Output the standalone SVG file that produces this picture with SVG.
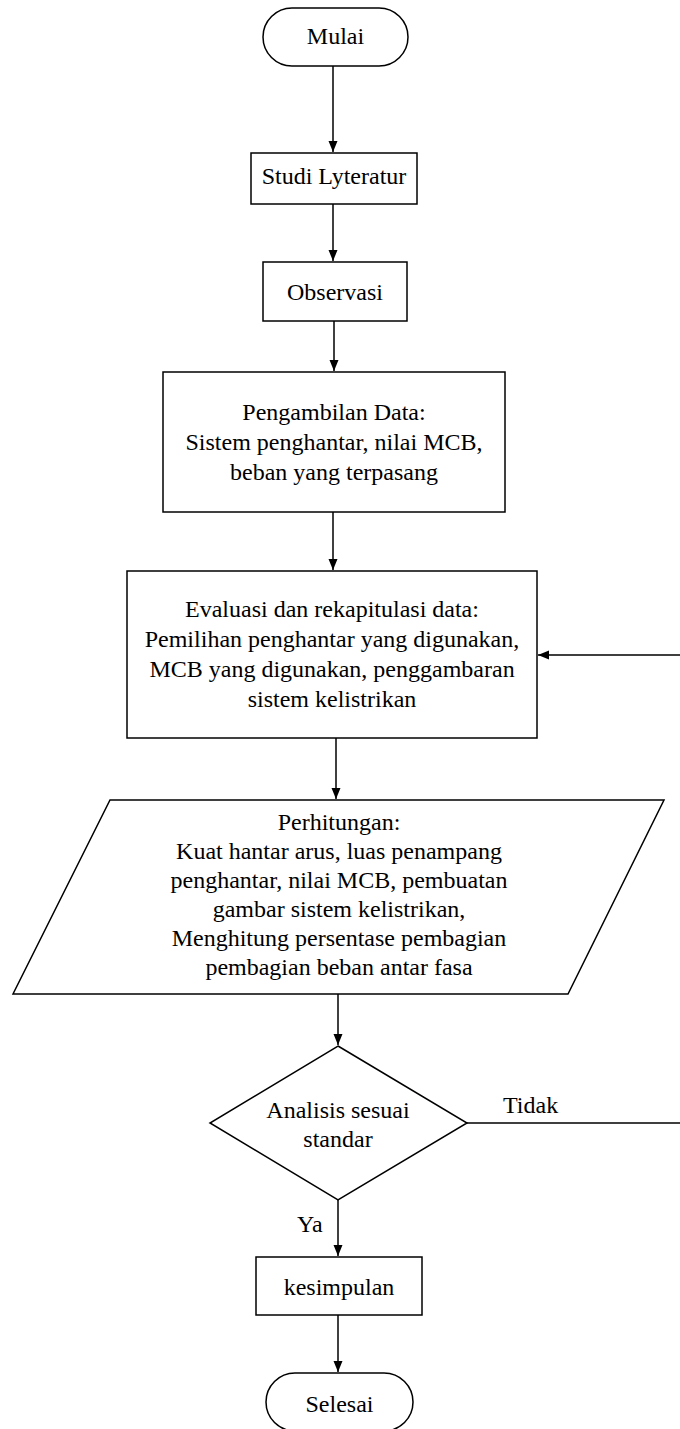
<svg xmlns="http://www.w3.org/2000/svg" width="680" height="1429" viewBox="0 0 680 1429">
<style>
.s{fill:#fff;stroke:#000;stroke-width:1.5}
.c{fill:none;stroke:#000;stroke-width:1.5}
text{font-family:"Liberation Serif","Times New Roman",serif;font-size:24px;fill:#000;text-anchor:middle}
.l{text-anchor:start}
</style>
<defs>
<marker id="ah" markerUnits="userSpaceOnUse" markerWidth="12" markerHeight="12" viewBox="0 0 12 12" refX="11" refY="6" orient="auto">
<path d="M0,1.5 L11,6 L0,10.5 Z" fill="#000"/>
</marker>
</defs>
<rect width="680" height="1429" fill="#fff"/>
<g id="connectors">
<line class="c" x1="333" y1="66" x2="333" y2="152" marker-end="url(#ah)"/>
<line class="c" x1="333" y1="204" x2="333" y2="261" marker-end="url(#ah)"/>
<line class="c" x1="334" y1="321" x2="334" y2="371" marker-end="url(#ah)"/>
<line class="c" x1="333" y1="512" x2="333" y2="570" marker-end="url(#ah)"/>
<line class="c" x1="336" y1="738" x2="336" y2="799" marker-end="url(#ah)"/>
<line class="c" x1="338" y1="994" x2="338" y2="1045" marker-end="url(#ah)"/>
<line class="c" x1="338" y1="1200" x2="338" y2="1256" marker-end="url(#ah)"/>
<line class="c" x1="338" y1="1315" x2="338" y2="1372" marker-end="url(#ah)"/>
<polyline class="c" points="467,1123 682,1123 682,655 538,655" marker-end="url(#ah)"/>
<text class="l" x="503" y="1113">Tidak</text>
<text class="l" x="297" y="1232">Ya</text>
</g>
<g id="mulai">
<rect class="s" x="263" y="8" width="145" height="58" rx="29" ry="29"/>
<text x="335.5" y="44">Mulai</text>
</g>
<g id="studi">
<rect class="s" x="251" y="153" width="166" height="51"/>
<text x="334" y="184">Studi Lyteratur</text>
</g>
<g id="observasi">
<rect class="s" x="263" y="262" width="144" height="59"/>
<text x="335" y="300">Observasi</text>
</g>
<g id="pengambilan">
<rect class="s" x="163" y="372" width="342" height="140"/>
<text x="334" y="420">Pengambilan Data:</text>
<text x="334" y="450">Sistem penghantar, nilai MCB,</text>
<text x="334" y="480">beban yang terpasang</text>
</g>
<g id="evaluasi">
<rect class="s" x="127" y="571" width="410" height="167"/>
<text x="332" y="617">Evaluasi dan rekapitulasi data:</text>
<text x="332" y="647">Pemilihan penghantar yang digunakan,</text>
<text x="332" y="677">MCB yang digunakan, penggambaran</text>
<text x="332" y="707">sistem kelistrikan</text>
</g>
<g id="perhitungan">
<polygon class="s" points="110,800 664,800 568,994 13,994"/>
<text x="339" y="830">Perhitungan:</text>
<text x="339" y="859">Kuat hantar arus, luas penampang</text>
<text x="339" y="888">penghantar, nilai MCB, pembuatan</text>
<text x="339" y="917">gambar sistem kelistrikan,</text>
<text x="339" y="946">Menghitung persentase pembagian</text>
<text x="339" y="975">pembagian beban antar fasa</text>
</g>
<g id="analisis">
<polygon class="s" points="338,1046 467,1123 338,1200 210,1123"/>
<text x="338" y="1118">Analisis sesuai</text>
<text x="338" y="1147">standar</text>
</g>
<g id="kesimpulan">
<rect class="s" x="256" y="1257" width="166" height="58"/>
<text x="339" y="1295">kesimpulan</text>
</g>
<g id="selesai">
<rect class="s" x="266" y="1373" width="147" height="58" rx="29" ry="29"/>
<text x="339.5" y="1412">Selesai</text>
</g>
</svg>
